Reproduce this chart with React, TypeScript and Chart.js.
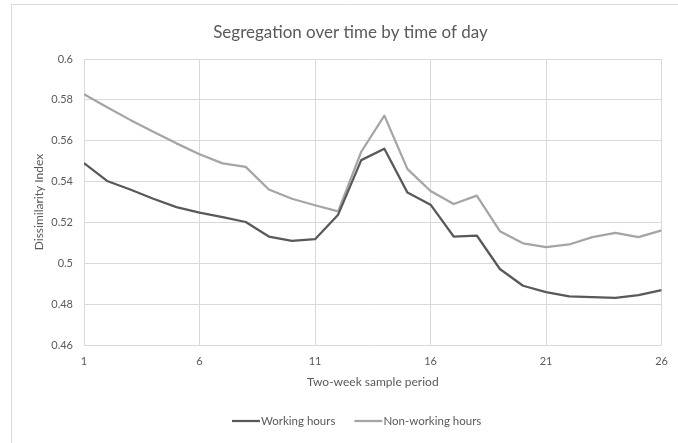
import React, { useEffect, useRef } from "react";
import { Chart, registerables } from "chart.js";

Chart.register(...registerables);

const chartTitle = "Segregation over time by time of day";
const xAxisTitle = "Two-week sample period";
const yAxisTitle = "Dissimilarity Index";

const periods = [1, 2, 3, 4, 5, 6, 7, 8, 9, 10, 11, 12, 13, 14, 15, 16, 17, 18, 19, 20, 21, 22, 23, 24, 25, 26];
const xTickValues = [1, 6, 11, 16, 21, 26];

const seriesNames = ["Working hours", "Non-working hours"];
const workingHours = [
  0.549, 0.5403, 0.5361, 0.5316, 0.5275, 0.5248, 0.5226, 0.5202, 0.5131, 0.511, 0.5118, 0.5238, 0.5505,
  0.5561, 0.5346, 0.5287, 0.5131, 0.5136, 0.4972, 0.489, 0.4859, 0.4838, 0.4834, 0.4831, 0.4844, 0.4869,
];
const nonWorkingHours = [
  0.5828, 0.5764, 0.5702, 0.5644, 0.5587, 0.5534, 0.5489, 0.5472, 0.5361, 0.5316, 0.5284, 0.5254, 0.5546,
  0.5723, 0.5461, 0.5354, 0.529, 0.5331, 0.5157, 0.5098, 0.5079, 0.5092, 0.5128, 0.5149, 0.5128, 0.5161,
];

const yMin = 0.46;
const yMax = 0.6;
const yStep = 0.02;

const TEXT = "#595959";
const GRID = "#d9d9d9";
const COLORS = ["#595959", "#a5a5a5"];
const FONT = "Lato";

const overlayPlugin = {
  id: "overlay",
  beforeDraw(chart: any) {
    const ctx = chart.ctx;
    ctx.save();
    ctx.strokeStyle = GRID;
    ctx.lineWidth = 1;
    ctx.beginPath();
    ctx.moveTo(11.5, 443);
    ctx.lineTo(11.5, 4.5);
    ctx.lineTo(678, 4.5);
    ctx.stroke();
    ctx.restore();
  },
  afterDraw(chart: any) {
    const ctx = chart.ctx;
    ctx.save();
    ctx.fillStyle = TEXT;
    ctx.font = `17px ${FONT}`;
    ctx.textAlign = "center";
    ctx.textBaseline = "middle";
    ctx.fillText(chartTitle, 350.5, 32.5);

    // legend
    ctx.font = `11.5px ${FONT}`;
    ctx.textAlign = "left";
    let x = 232;
    const y = 421;
    chart.data.datasets.forEach((ds: any) => {
      ctx.strokeStyle = ds.borderColor;
      ctx.lineWidth = 2.25;
      ctx.beginPath();
      ctx.moveTo(x, y);
      ctx.lineTo(x + 28, y);
      ctx.stroke();
      x += 29;
      ctx.fillStyle = TEXT;
      ctx.fillText(ds.label, x, y);
      x += ctx.measureText(ds.label).width + 19;
    });
    ctx.restore();
  },
};

export default function App() {
  const ref = useRef<HTMLCanvasElement>(null);
  useEffect(() => {
    if (!ref.current) return;
    const chart = new Chart(ref.current, {
      type: "line",
      data: {
        datasets: [
          {
            label: seriesNames[0],
            data: periods.map((p, i) => ({ x: p, y: workingHours[i] })),
            borderColor: COLORS[0],
            backgroundColor: COLORS[0],
            borderWidth: 2.25,
            pointRadius: 0,
            tension: 0,
            borderJoinStyle: "round",
          },
          {
            label: seriesNames[1],
            data: periods.map((p, i) => ({ x: p, y: nonWorkingHours[i] })),
            borderColor: COLORS[1],
            backgroundColor: COLORS[1],
            borderWidth: 2.25,
            pointRadius: 0,
            tension: 0,
            borderJoinStyle: "round",
          },
        ],
      },
      options: {
        responsive: false,
        animation: false,
        layout: { padding: { left: 0, right: 12, top: 59, bottom: 50 } },
        plugins: {
          legend: { display: false },
          title: { display: false },
          tooltip: { enabled: false },
        },
        scales: {
          x: {
            type: "linear",
            min: periods[0],
            max: periods[periods.length - 1],
            afterBuildTicks: (scale: any) => {
              scale.ticks = xTickValues.map((v) => ({ value: v }));
            },
            afterFit: (scale: any) => {
              scale.height = 48;
            },
            grid: { color: GRID, lineWidth: 1, drawTicks: false },
            border: { display: false },
            ticks: {
              color: TEXT,
              font: { family: FONT, size: 11 },
              padding: 10,
              autoSkip: false,
              maxRotation: 0,
              callback: (v: any) => String(v),
            },
            title: {
              display: true,
              text: xAxisTitle,
              color: TEXT,
              font: { family: FONT, size: 12 },
              padding: { top: 0, bottom: 3.5 },
            },
          },
          y: {
            min: yMin,
            max: yMax,
            afterFit: (scale: any) => {
              scale.width = 84;
            },
            grid: { color: GRID, lineWidth: 1, drawTicks: false },
            border: { display: false },
            ticks: {
              stepSize: yStep,
              color: TEXT,
              font: { family: FONT, size: 11 },
              padding: 11,
              callback: (v: any) => parseFloat(Number(v).toFixed(2)).toString(),
            },
            title: {
              display: true,
              text: yAxisTitle,
              color: TEXT,
              font: { family: FONT, size: 12 },
              padding: { top: 32, bottom: 0 },
            },
          },
        },
      },
      plugins: [overlayPlugin],
    } as any);
    return () => chart.destroy();
  }, []);
  return (
    <div style={{ position: "fixed", left: 0, top: 0, width: 678, height: 443, background: "#fff" }}>
      <canvas ref={ref} width={678} height={443} style={{ display: "block" }} />
    </div>
  );
}
